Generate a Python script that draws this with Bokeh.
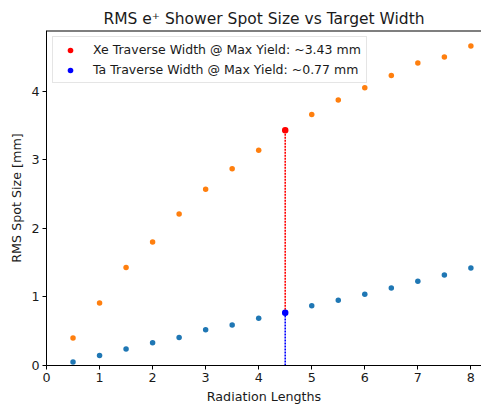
from bokeh.plotting import figure
from bokeh.models import Range1d, Span, FixedTicker, Legend, LegendItem
from bokeh.embed import file_html
from bokeh.resources import INLINE

# Target width in radiation lengths
radiation_lengths = [0.5, 1.0, 1.5, 2.0, 2.5, 3.0, 3.5, 4.0, 4.5, 5.0, 5.5, 6.0, 6.5, 7.0, 7.5, 8.0]
# RMS positron spot size [mm]
xe_spot = [0.40, 0.91, 1.43, 1.80, 2.21, 2.57, 2.87, 3.14, 3.43, 3.66, 3.87, 4.05, 4.23, 4.41, 4.50, 4.66]
ta_spot = [0.05, 0.145, 0.24, 0.33, 0.41, 0.52, 0.59, 0.69, 0.77, 0.87, 0.95, 1.04, 1.13, 1.23, 1.32, 1.42]

# Width at maximum yield and the spot sizes there
max_yield_x = 4.5
xe_at_max = 3.43
ta_at_max = 0.77

x_ticks = [0, 1, 2, 3, 4, 5, 6, 7, 8]
y_ticks = [0, 1, 2, 3, 4]

FONT = "DejaVu Sans"
TEXT = "#1a1a1a"
Y_TOP = 4.885

p = figure(
    width=481, height=406,
    output_backend="svg", toolbar_location=None,
    x_range=Range1d(0, 8.2), y_range=Range1d(0, Y_TOP),
    min_border_left=46, min_border_right=0, min_border_top=30, min_border_bottom=39,
    title="RMS e\u207a Shower Spot Size vs Target Width",
)
p.background_fill_color = "white"
p.border_fill_color = "white"
p.outline_line_color = None
p.grid.visible = False

p.title.text_font = FONT
p.title.text_font_size = "15.5px"
p.title.text_font_style = "normal"
p.title.text_color = TEXT
p.title.align = "center"
p.title.offset = 0
p.title.standoff = 5

for ax in (p.xaxis[0], p.yaxis[0]):
    ax.axis_line_color = "black"
    ax.axis_line_width = 1
    ax.major_tick_line_color = "black"
    ax.major_tick_out = 4
    ax.major_tick_in = 0
    ax.minor_tick_out = 0
    ax.minor_tick_in = 0
    ax.major_label_text_font = FONT
    ax.major_label_text_font_size = "12.7px"
    ax.major_label_text_color = TEXT
    ax.axis_label_text_font = FONT
    ax.axis_label_text_font_size = "12.7px"
    ax.axis_label_text_font_style = "normal"
    ax.axis_label_text_color = TEXT
    ax.major_label_standoff = 3
    ax.axis_label_standoff = 4

p.xaxis.ticker = FixedTicker(ticks=x_ticks)
p.yaxis.ticker = FixedTicker(ticks=y_ticks)
p.xaxis.axis_label = "Radiation Lengths"
p.yaxis.axis_label = "RMS Spot Size [mm]"

# top spine (the right one falls outside the page)
p.add_layout(Span(location=Y_TOP, dimension="width", line_color="black", line_width=2))

# series
p.scatter(radiation_lengths, xe_spot, size=5.5, color="#ff7f0e", line_color=None)
p.scatter(radiation_lengths, ta_spot, size=5.5, color="#1f77b4", line_color=None)

# dotted markers down to the max-yield points
p.segment(x0=[max_yield_x], y0=[ta_at_max], x1=[max_yield_x], y1=[xe_at_max],
          line_color="red", line_width=1.6, line_dash="2 1")
p.segment(x0=[max_yield_x], y0=[0], x1=[max_yield_x], y1=[ta_at_max],
          line_color="blue", line_width=1.6, line_dash="2 1")

xe_pt = p.scatter([max_yield_x], [xe_at_max], size=6.5, color="red", line_color=None)
ta_pt = p.scatter([max_yield_x], [ta_at_max], size=6.5, color="blue", line_color=None)

legend = Legend(
    items=[
        LegendItem(label=f"Xe Traverse Width @ Max Yield: ~{xe_at_max:.2f} mm", renderers=[xe_pt]),
        LegendItem(label=f"Ta Traverse Width @ Max Yield: ~{ta_at_max:.2f} mm", renderers=[ta_pt]),
    ],
    location="top_left",
    margin=6,
    padding=5,
    spacing=5,
    glyph_width=24,
    glyph_height=14,
    label_height=14,
    label_standoff=11,
    label_text_font=FONT,
    label_text_font_size="12.5px",
    label_text_color=TEXT,
    border_line_color="#cccccc",
    border_line_width=1,
    background_fill_color="white",
    background_fill_alpha=0.8,
)
p.add_layout(legend)

open("out.html", "w").write(file_html(p, INLINE))
